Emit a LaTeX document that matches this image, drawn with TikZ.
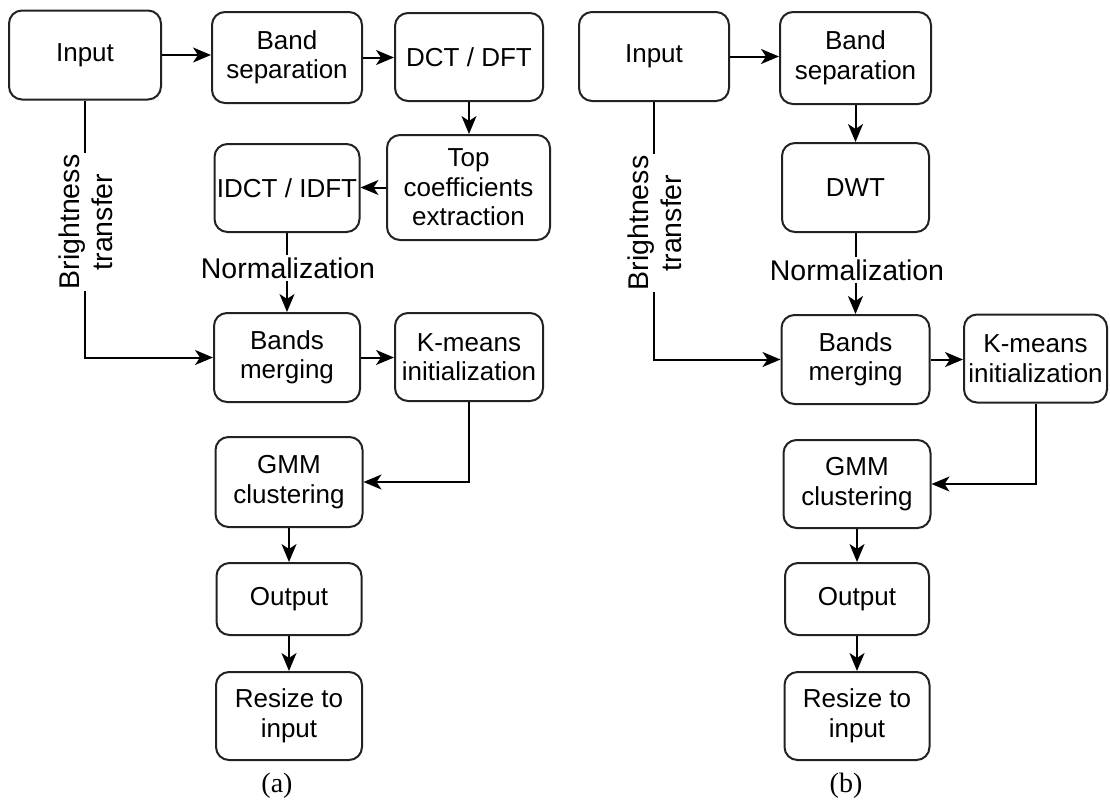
\documentclass[tikz,border=0pt]{standalone}
\usepackage{fontspec}
\setmainfont{Liberation Sans}
\newfontfamily\captionserif{Liberation Serif}
\usetikzlibrary{arrows.meta}
\definecolor{linegray}{HTML}{222222}

\begin{document}
\begin{tikzpicture}[x=1pt,y=-1pt,
  box/.style={draw=linegray, line width=2pt, rounded corners=13pt, fill=white,
    align=center, inner sep=0pt, font=\fontsize{26}{29.5}\selectfont},
  sz/.style 2 args={minimum width=#1, minimum height=#2},
  conn/.style={draw=black, line width=2pt,
    -{Stealth[length=18pt,width=15pt,inset=5pt]}},
  edgelabel/.style={fill=white, inner xsep=2pt, inner ysep=3pt,
    align=center, font=\fontsize{28.5}{33}\selectfont},
  subcap/.style={font=\captionserif\fontsize{28}{32}\selectfont, inner sep=0pt}
]
\useasboundingbox (0,0) rectangle (1110,801);

% ---------------- (a) DCT / DFT pipeline ----------------
\node[box, sz={152pt}{89pt}] (inA)   at (85,55)    {Input};
\node[box, sz={150pt}{91pt}] (bsA)   at (287,57.5) {Band\\separation};
\node[box, sz={148pt}{88pt}] (dctA)  at (469,57)   {DCT / DFT};
\node[box, sz={163pt}{105pt}] (topA) at (468.5,187.5) {Top\\coefficients\\extraction};
\node[box, sz={145pt}{88pt}] (idctA) at (287,188)  {IDCT / IDFT};
\node[box, sz={146pt}{89pt}] (bmA)   at (287,357.5) {Bands\\merging};
\node[box, sz={148pt}{88pt}] (kmA)   at (469,357)  {K-means\\initialization};
\node[box, sz={147pt}{90pt}] (gmmA)  at (289,482)  {GMM\\clustering};
\node[box, sz={145pt}{72pt}] (outA)  at (289,599)  {Output};
\node[box, sz={146pt}{88pt}] (rsA)   at (289,716)  {Resize to\\input};

\draw[conn] (inA.east) -- (inA.east -| bsA.west);
\draw[conn] (bsA.east) -- (bsA.east -| dctA.west);
\draw[conn] (dctA.south) -- (dctA.south |- topA.north);
\draw[conn] (topA.west) -- (topA.west -| idctA.east);
\draw[conn] (idctA.south) -- (idctA.south |- bmA.north);
\draw[conn] (inA.south) |- (bmA.west);
\draw[conn] (bmA.east) -- (bmA.east -| kmA.west);
\draw[conn] (kmA.south) |- (gmmA.east);
\draw[conn] (gmmA.south) -- (gmmA.south |- outA.north);
\draw[conn] (outA.south) -- (outA.south |- rsA.north);

\node[edgelabel] (normA) at (288,268) {Normalization};
\node[edgelabel, rotate=90] (brA) at (86,222) {Brightness\\transfer};
\node[subcap] (capA) at (277,786) {(a)};

% ---------------- (b) DWT pipeline ----------------
\node[box, sz={150pt}{89pt}] (inB)   at (654,56.5) {Input};
\node[box, sz={151pt}{92pt}] (bsB)   at (855.5,58) {Band\\separation};
\node[box, sz={147pt}{89pt}] (dwtB)  at (855.5,187.5) {DWT};
\node[box, sz={148pt}{89pt}] (bmB)   at (855.5,359.5) {Bands\\merging};
\node[box, sz={143pt}{88pt}] (kmB)   at (1035.5,358.5) {K-means\\initialization};
\node[box, sz={147pt}{88pt}] (gmmB)  at (857,484)  {GMM\\clustering};
\node[box, sz={144pt}{72pt}] (outB)  at (857,599)  {Output};
\node[box, sz={145pt}{88pt}] (rsB)   at (857,716)  {Resize to\\input};

\draw[conn] (inB.east) -- (inB.east -| bsB.west);
\draw[conn] (bsB.south) -- (bsB.south |- dwtB.north);
\draw[conn] (dwtB.south) -- (dwtB.south |- bmB.north);
\draw[conn] (inB.south) |- (bmB.west);
\draw[conn] (bmB.east) -- (bmB.east -| kmB.west);
\draw[conn] (kmB.south) |- (gmmB.east);
\draw[conn] (gmmB.south) -- (gmmB.south |- outB.north);
\draw[conn] (outB.south) -- (outB.south |- rsB.north);

\node[edgelabel] (normB) at (857,270) {Normalization};
\node[edgelabel, rotate=90] (brB) at (655,223) {Brightness\\transfer};
\node[subcap] (capB) at (846,786) {(b)};
\end{tikzpicture}
\end{document}
